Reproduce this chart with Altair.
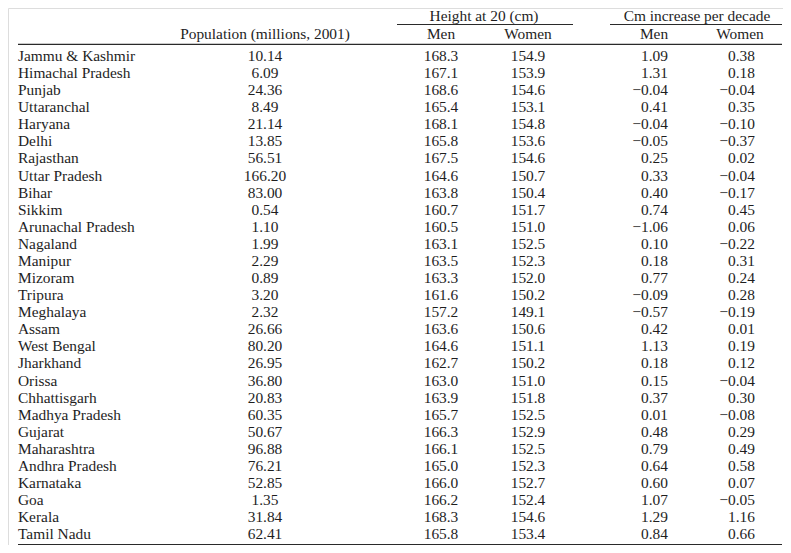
import altair as alt
import pandas as pd

states = ["Jammu & Kashmir", "Himachal Pradesh", "Punjab", "Uttaranchal", "Haryana",
          "Delhi", "Rajasthan", "Uttar Pradesh", "Bihar", "Sikkim", "Arunachal Pradesh",
          "Nagaland", "Manipur", "Mizoram", "Tripura", "Meghalaya", "Assam", "West Bengal",
          "Jharkhand", "Orissa", "Chhattisgarh", "Madhya Pradesh", "Gujarat", "Maharashtra",
          "Andhra Pradesh", "Karnataka", "Goa", "Kerala", "Tamil Nadu"]
population = [10.14, 6.09, 24.36, 8.49, 21.14, 13.85, 56.51, 166.20, 83.00, 0.54, 1.10,
              1.99, 2.29, 0.89, 3.20, 2.32, 26.66, 80.20, 26.95, 36.80, 20.83, 60.35,
              50.67, 96.88, 76.21, 52.85, 1.35, 31.84, 62.41]
height_men = [168.3, 167.1, 168.6, 165.4, 168.1, 165.8, 167.5, 164.6, 163.8, 160.7, 160.5,
              163.1, 163.5, 163.3, 161.6, 157.2, 163.6, 164.6, 162.7, 163.0, 163.9, 165.7,
              166.3, 166.1, 165.0, 166.0, 166.2, 168.3, 165.8]
height_women = [154.9, 153.9, 154.6, 153.1, 154.8, 153.6, 154.6, 150.7, 150.4, 151.7, 151.0,
                152.5, 152.3, 152.0, 150.2, 149.1, 150.6, 151.1, 150.2, 151.0, 151.8, 152.5,
                152.9, 152.5, 152.3, 152.7, 152.4, 154.6, 153.4]
incr_men = [1.09, 1.31, -0.04, 0.41, -0.04, -0.05, 0.25, 0.33, 0.40, 0.74, -1.06,
            0.10, 0.18, 0.77, -0.09, -0.57, 0.42, 1.13, 0.18, 0.15, 0.37, 0.01,
            0.48, 0.79, 0.64, 0.60, 1.07, 1.29, 0.84]
incr_women = [0.38, 0.18, -0.04, 0.35, -0.10, -0.37, 0.02, -0.04, -0.17, 0.45, 0.06,
              -0.22, 0.31, 0.24, 0.28, -0.19, 0.01, 0.19, 0.12, -0.04, 0.30, -0.08,
              0.29, 0.49, 0.58, 0.07, -0.05, 1.16, 0.66]

group_headers = ["Height at 20 (cm)", "Cm increase per decade"]
sub_headers = ["Population (millions, 2001)", "Men", "Women", "Men", "Women"]


def fmt(v, d):
    return f"{v:.{d}f}".replace("-", "\u2212")


df = pd.DataFrame({
    "state": states,
    "pop": [fmt(v, 2) for v in population],
    "hm": [fmt(v, 1) for v in height_men],
    "hw": [fmt(v, 1) for v in height_women],
    "im": [fmt(v, 2) for v in incr_men],
    "iw": [fmt(v, 2) for v in incr_women],
})

FONT = "Liberation Serif"
FS = 15.4
TXT = "#1e1e1e"
RULE = "#2a2a2a"
O = 8  # page margin offset

yscale = alt.Scale(domain=states, range=[56 - O, 534.3 - O], padding=0)
Y = alt.Y("state:N", sort=states, scale=yscale, axis=None)

base = alt.Chart(df)


def col(field, x, align):
    return base.mark_text(font=FONT, fontSize=FS, color=TXT, align=align,
                          baseline="middle").encode(
        x=alt.value(x - O), y=Y, text=f"{field}:N")


layers = [
    col("state", 18, "left"),
    col("pop", 265, "center"),
    col("hm", 441, "center"),
    col("hw", 528, "center"),
    col("im", 668, "right"),
    col("iw", 755, "right"),
]


def label(text, x, y, align="center", baseline="middle"):
    return alt.Chart(df.head(1)).mark_text(font=FONT, fontSize=FS, color=TXT,
                                           align=align, baseline=baseline).encode(
        x=alt.value(x - O), y=alt.value(y - O), text=alt.value(text))


def rule(x1, x2, y, w=1.2):
    return alt.Chart(df.head(1)).mark_rule(color=RULE, strokeWidth=w).encode(
        x=alt.value(x1 - O), x2=alt.value(x2 - O), y=alt.value(y - O))


layers += [
    label(group_headers[0], 484, 8.5, baseline="top"),
    label(group_headers[1], 697, 8.5, baseline="top"),
    rule(397, 573, 24.5),
    rule(610, 782, 24.5),
    label(sub_headers[0], 265, 33.5),
    label(sub_headers[1], 441, 33.5),
    label(sub_headers[2], 528, 33.5),
    label(sub_headers[3], 654, 33.5),
    label(sub_headers[4], 740, 33.5),
    rule(18, 782, 44.3),
    rule(18, 782, 544.5),
]

chart = alt.layer(*layers).properties(
    width=775, height=537, padding=0, autosize=alt.AutoSizeParams(type="none")
).configure_view(stroke=None).configure(background="white")

chart.save("out.html", embed_options={"renderer": "svg", "actions": False})
